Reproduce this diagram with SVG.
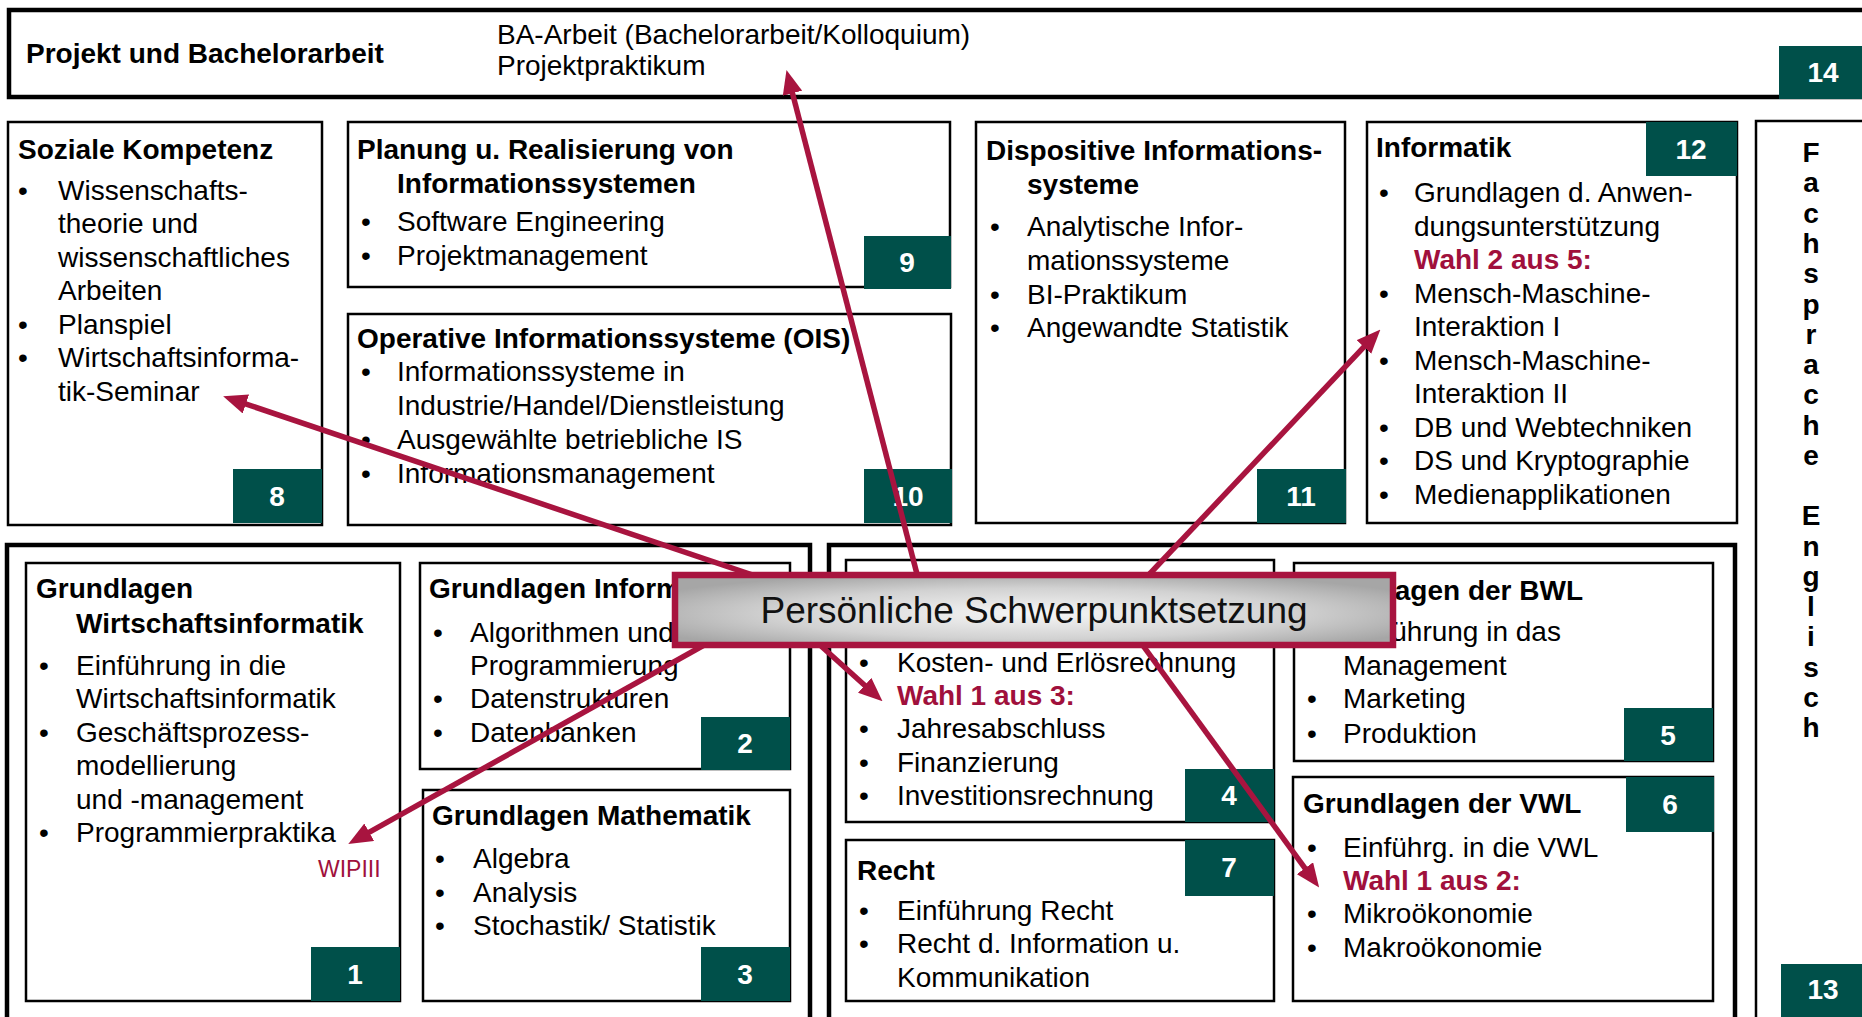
<svg xmlns="http://www.w3.org/2000/svg" width="1862" height="1017" viewBox="0 0 1862 1017">
<style>
text{font-family:"Liberation Sans",Arial,sans-serif;font-size:28px;fill:#000}
.h{font-weight:bold}
.w{font-weight:bold;fill:#A0103C}
.num{font-weight:bold;fill:#fff;text-anchor:middle}
.fs{font-weight:bold;text-anchor:middle}
.box{fill:#fff;stroke:#000;stroke-width:2.5}
.grp{fill:#fff;stroke:#000;stroke-width:4.5}
.badge{fill:#00504A}
.conn{stroke:#A8143F;stroke-width:5.5;fill:none;marker-end:url(#ah)}
</style>
<defs>
<marker id="ah" markerUnits="userSpaceOnUse" markerWidth="24" markerHeight="20" refX="10" refY="10" orient="auto">
<path d="M0,0 L24,10 L0,20 z" fill="#A8143F"/>
</marker>
<radialGradient id="bg" cx="50%" cy="55%" r="60%">
<stop offset="0" stop-color="#f6f6f6"/>
<stop offset="0.6" stop-color="#d2d2d2"/>
<stop offset="1" stop-color="#a6a6a6"/>
</radialGradient>
</defs>
<rect width="1862" height="1017" fill="#fff"/>

<g id="n14">
<rect class="grp" x="9" y="10" width="1900" height="87" stroke-width="3.5"/>
<text class="h" x="26" y="63">Projekt und Bachelorarbeit</text>
<text x="497" y="44">BA-Arbeit (Bachelorarbeit/Kolloquium)</text>
<text x="497" y="75">Projektpraktikum</text>
<rect class="badge" x="1779" y="46" width="89" height="53"/>
<text class="num" x="1823" y="82">14</text>
</g>

<g id="n13">
<rect class="box" x="1756" y="121" width="200" height="950" stroke-width="3"/>
<text class="fs" x="1811" y="162">F</text>
<text class="fs" x="1811" y="192">a</text>
<text class="fs" x="1811" y="223">c</text>
<text class="fs" x="1811" y="253">h</text>
<text class="fs" x="1811" y="283">s</text>
<text class="fs" x="1811" y="314">p</text>
<text class="fs" x="1811" y="344">r</text>
<text class="fs" x="1811" y="374">a</text>
<text class="fs" x="1811" y="404">c</text>
<text class="fs" x="1811" y="435">h</text>
<text class="fs" x="1811" y="465">e</text>
<text class="fs" x="1811" y="525">E</text>
<text class="fs" x="1811" y="556">n</text>
<text class="fs" x="1811" y="586">g</text>
<text class="fs" x="1811" y="616">l</text>
<text class="fs" x="1811" y="646">i</text>
<text class="fs" x="1811" y="677">s</text>
<text class="fs" x="1811" y="707">c</text>
<text class="fs" x="1811" y="737">h</text>
<rect class="badge" x="1781" y="964" width="89" height="60"/>
<text class="num" x="1823" y="999">13</text>
</g>

<g id="n8">
<rect class="box" x="8" y="122" width="314" height="403"/>
<text class="h" x="18" y="159">Soziale Kompetenz</text>
<text x="18" y="200">•</text><text x="58" y="200">Wissenschafts-</text>
<text x="58" y="233">theorie und</text>
<text x="58" y="267">wissenschaftliches</text>
<text x="58" y="300">Arbeiten</text>
<text x="18" y="334">•</text><text x="58" y="334">Planspiel</text>
<text x="18" y="367">•</text><text x="58" y="367">Wirtschaftsinforma-</text>
<text x="58" y="401">tik-Seminar</text>
<rect class="badge" x="233" y="469" width="89" height="54"/>
<text class="num" x="277" y="506">8</text>
</g>

<g id="n9">
<rect class="box" x="348" y="122" width="602" height="165"/>
<text class="h" x="357" y="159">Planung u. Realisierung von</text>
<text class="h" x="397" y="193">Informationssystemen</text>
<text x="361" y="231">•</text><text x="397" y="231">Software Engineering</text>
<text x="361" y="265">•</text><text x="397" y="265">Projektmanagement</text>
<rect class="badge" x="864" y="236" width="87" height="53"/>
<text class="num" x="907" y="272">9</text>
</g>

<g id="n10">
<rect class="box" x="348" y="314" width="603" height="211"/>
<text class="h" x="357" y="348">Operative Informationssysteme (OIS)</text>
<text x="361" y="381">•</text><text x="397" y="381">Informationssysteme in</text>
<text x="397" y="415">Industrie/Handel/Dienstleistung</text>
<text x="361" y="449">•</text><text x="397" y="449">Ausgewählte betriebliche IS</text>
<text x="361" y="483">•</text><text x="397" y="483">Informationsmanagement</text>
<rect class="badge" x="864" y="469" width="88" height="54"/>
<text class="num" x="908" y="506">10</text>
</g>

<g id="n11">
<rect class="box" x="976" y="122" width="369" height="401"/>
<text class="h" x="986" y="160">Dispositive Informations-</text>
<text class="h" x="1027" y="194">systeme</text>
<text x="990" y="236">•</text><text x="1027" y="236">Analytische Infor-</text>
<text x="1027" y="270">mationssysteme</text>
<text x="990" y="304">•</text><text x="1027" y="304">BI-Praktikum</text>
<text x="990" y="337">•</text><text x="1027" y="337">Angewandte Statistik</text>
<rect class="badge" x="1257" y="469" width="89" height="54"/>
<text class="num" x="1301" y="506">11</text>
</g>

<g id="n12">
<rect class="box" x="1367" y="122" width="370" height="401"/>
<text class="h" x="1376" y="157">Informatik</text>
<rect class="badge" x="1646" y="122" width="91" height="54"/>
<text class="num" x="1691" y="159">12</text>
<text x="1379" y="202">•</text><text x="1414" y="202">Grundlagen d. Anwen-</text>
<text x="1414" y="236">dungsunterstützung</text>
<text class="w" x="1414" y="269">Wahl 2 aus 5:</text>
<text x="1379" y="303">•</text><text x="1414" y="303">Mensch-Maschine-</text>
<text x="1414" y="336">Interaktion I</text>
<text x="1379" y="370">•</text><text x="1414" y="370">Mensch-Maschine-</text>
<text x="1414" y="403">Interaktion II</text>
<text x="1379" y="437">•</text><text x="1414" y="437">DB und Webtechniken</text>
<text x="1379" y="470">•</text><text x="1414" y="470">DS und Kryptographie</text>
<text x="1379" y="504">•</text><text x="1414" y="504">Medienapplikationen</text>
</g>

<g id="groupLeft">
<rect class="grp" x="7" y="545" width="803" height="520"/>
</g>
<g id="groupRight">
<rect class="grp" x="829" y="545" width="906" height="520"/>
</g>

<g id="n1">
<rect class="box" x="26" y="563" width="374" height="438"/>
<text class="h" x="36" y="598">Grundlagen</text>
<text class="h" x="76" y="633">Wirtschaftsinformatik</text>
<text x="39" y="675">•</text><text x="76" y="675">Einführung in die</text>
<text x="76" y="708">Wirtschaftsinformatik</text>
<text x="39" y="742">•</text><text x="76" y="742">Geschäftsprozess-</text>
<text x="76" y="775">modellierung</text>
<text x="76" y="809">und -management</text>
<text x="39" y="842">•</text><text x="76" y="842">Programmierpraktika</text>
<text x="318" y="877" style="font-size:23px;fill:#A0103C">WIPIII</text>
<rect class="badge" x="311" y="947" width="89" height="54"/>
<text class="num" x="355" y="984">1</text>
</g>

<g id="n2">
<rect class="box" x="420" y="563" width="370" height="206"/>
<text class="h" x="429" y="598">Grundlagen Informatik</text>
<text x="433" y="642">•</text><text x="470" y="642">Algorithmen und</text>
<text x="470" y="675">Programmierung</text>
<text x="433" y="708">•</text><text x="470" y="708">Datenstrukturen</text>
<text x="433" y="742">•</text><text x="470" y="742">Datenbanken</text>
<rect class="badge" x="701" y="717" width="89" height="53"/>
<text class="num" x="745" y="753">2</text>
</g>

<g id="n3">
<rect class="box" x="423" y="790" width="367" height="211"/>
<text class="h" x="432" y="825">Grundlagen Mathematik</text>
<text x="435" y="868">•</text><text x="473" y="868">Algebra</text>
<text x="435" y="902">•</text><text x="473" y="902">Analysis</text>
<text x="435" y="935">•</text><text x="473" y="935">Stochastik/ Statistik</text>
<rect class="badge" x="701" y="947" width="89" height="54"/>
<text class="num" x="745" y="984">3</text>
</g>

<g id="n4">
<rect class="box" x="846" y="560" width="428" height="262"/>
<text x="859" y="672">•</text><text x="897" y="672">Kosten- und Erlösrechnung</text>
<text class="w" x="897" y="705">Wahl 1 aus 3:</text>
<text x="859" y="738">•</text><text x="897" y="738">Jahresabschluss</text>
<text x="859" y="772">•</text><text x="897" y="772">Finanzierung</text>
<text x="859" y="805">•</text><text x="897" y="805">Investitionsrechnung</text>
<rect class="badge" x="1185" y="769" width="89" height="53"/>
<text class="num" x="1229" y="805">4</text>
</g>

<g id="n7">
<rect class="box" x="846" y="840" width="428" height="161"/>
<text class="h" x="857" y="880">Recht</text>
<rect class="badge" x="1185" y="840" width="89" height="56"/>
<text class="num" x="1229" y="877">7</text>
<text x="859" y="920">•</text><text x="897" y="920">Einführung Recht</text>
<text x="859" y="953">•</text><text x="897" y="953">Recht d. Information u.</text>
<text x="897" y="987">Kommunikation</text>
</g>

<g id="n5">
<rect class="box" x="1294" y="563" width="419" height="198"/>
<text class="h" x="1303" y="600">Grundlagen der BWL</text>
<text x="1307" y="641">•</text><text x="1343" y="641">Einführung in das</text>
<text x="1343" y="675">Management</text>
<text x="1307" y="708">•</text><text x="1343" y="708">Marketing</text>
<text x="1307" y="743">•</text><text x="1343" y="743">Produktion</text>
<rect class="badge" x="1624" y="708" width="89" height="53"/>
<text class="num" x="1668" y="745">5</text>
</g>

<g id="n6">
<rect class="box" x="1293" y="777" width="420" height="224"/>
<text class="h" x="1303" y="813">Grundlagen der VWL</text>
<rect class="badge" x="1626" y="777" width="88" height="55"/>
<text class="num" x="1670" y="814">6</text>
<text x="1307" y="857">•</text><text x="1343" y="857">Einführg. in die VWL</text>
<text class="w" x="1343" y="890">Wahl 1 aus 2:</text>
<text x="1307" y="923">•</text><text x="1343" y="923">Mikroökonomie</text>
<text x="1307" y="957">•</text><text x="1343" y="957">Makroökonomie</text>
</g>

<g id="connectors">
<line class="conn" x1="800" y1="591" x2="236.4" y2="400.8"/>
<line class="conn" x1="925" y1="605" x2="790" y2="83.6"/>
<line class="conn" x1="1125" y1="600" x2="1370.8" y2="339.7"/>
<line class="conn" x1="740" y1="625" x2="360.5" y2="837.1"/>
<line class="conn" x1="800" y1="627" x2="872.1" y2="692"/>
<line class="conn" x1="1120" y1="614" x2="1310.9" y2="876.3"/>
</g>

<g id="banner">
<rect x="675" y="575" width="718" height="70" fill="url(#bg)" stroke="#A8143F" stroke-width="6.5"/>
<text x="1034" y="623" style="font-size:37px;text-anchor:middle;fill:#111">Persönliche Schwerpunktsetzung</text>
</g>
</svg>
